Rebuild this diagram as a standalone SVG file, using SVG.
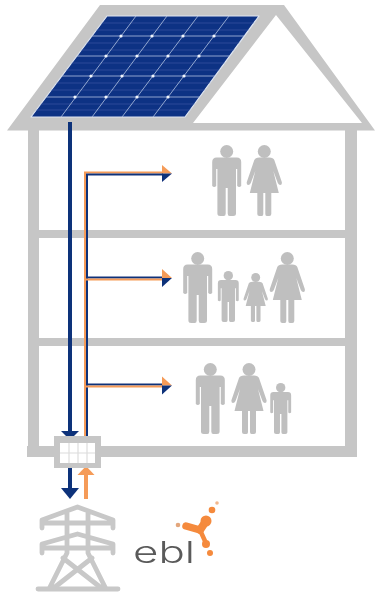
<svg xmlns="http://www.w3.org/2000/svg" width="375" height="593" viewBox="0 0 375 593">
<style>
.g{fill:#c6c6c6}
.p{fill:#bfbfbf}
.navy{stroke:#11307a;fill:none}
.org{stroke:#f59b58;fill:none}
.nf{fill:#11307a}
.of{fill:#f59b58}
.maj{stroke:#b4c5e2;stroke-width:.8}
.min{stroke:#3f62aa;stroke-width:.6}
.py{stroke:#c8c8c8;stroke-width:4.800;fill:none;stroke-linecap:round;stroke-linejoin:round}
.cell{stroke:#dcdcdc;stroke-width:1.2}
</style>
<defs>
<filter id="soft" x="-5%" y="-5%" width="110%" height="110%"><feGaussianBlur stdDeviation="0.5"/></filter>
<clipPath id="pc"><polygon points="107,16 259,16 185,117 31,117"/></clipPath>
<g id="man">
<circle cx="0" cy="6.500" r="6.500"/>
<path d="M-10 12.500H10Q14.500 12.500 14.500 17V41Q12.500 43 10.500 41V24H9.300V68.500Q9.300 71 6.500 71H3Q1 71 1 68.500V43H-1V68.500Q-1 71-3 71H-6.500Q-9.300 71-9.300 68.500V24H-10.500V41Q-12.500 43-14.500 41V17Q-14.500 12.500-10 12.500Z"/>
</g>
<g id="woman">
<circle cx="0" cy="6.500" r="6.500"/>
<path d="M-5 12.500H5Q9 12.500 10 15L17.500 37Q18 40 16 40Q14.500 40 13.500 38L9 26L14.500 48H7V69Q7 71 5 71H2.500Q1 71 1 69V48H-1V69Q-1 71-2.500 71H-5Q-7 71-7 69V48H-14.500L-9 26L-13.500 38Q-14.500 40-16 40Q-18 40-17.500 37L-10 15Q-9 12.500-5 12.500Z"/>
</g>
</defs>
<rect width="375" height="593" fill="#fff"/>
<g filter="url(#soft)">
<g id="house">
<path class="g" fill-rule="evenodd" d="M100 5H284L375 130.500H7ZM276 15L193 123H362Z"/>
<rect class="g" x="28" y="130" width="11" height="327"/>
<rect class="g" x="345" y="130" width="12" height="327"/>
<rect class="g" x="28" y="230" width="329" height="8"/>
<rect class="g" x="28" y="338" width="329" height="8"/>
<rect class="g" x="27" y="446" width="330" height="11"/>
</g>
<g id="solar-panel">
<polygon points="107,16 259,16 185,117 31,117" fill="#0d3084" stroke="#dfe6f2" stroke-width="1.2" stroke-linejoin="round"/>
<g clip-path="url(#pc)">
<path class="min" d="M0 23H300M0 30H300M0 43H300M0 50H300M0 63H300M0 70H300M0 83H300M0 90H300M0 104H300M0 110H300"/>
<path class="maj" d="M0 36H300M0 56H300M0 76H300M0 97H300"/>
<path class="maj" d="M136 16L61 117M167 16L92 117M198 16L122 117M229 16L153 117"/>
</g>
<g fill="#f2f6fc">
<circle cx="121" cy="36" r="1.600"/><circle cx="152" cy="36" r="1.600"/><circle cx="183" cy="36" r="1.600"/><circle cx="214" cy="36" r="1.600"/>
<circle cx="106" cy="56" r="1.600"/><circle cx="137" cy="56" r="1.600"/><circle cx="168" cy="56" r="1.600"/><circle cx="199" cy="56" r="1.600"/>
<circle cx="91" cy="76" r="1.600"/><circle cx="122" cy="76" r="1.600"/><circle cx="153" cy="76" r="1.600"/><circle cx="184" cy="76" r="1.600"/>
<circle cx="75" cy="97" r="1.600"/><circle cx="106" cy="97" r="1.600"/><circle cx="137" cy="97" r="1.600"/><circle cx="168" cy="97" r="1.600"/>
</g>
</g>
<g id="people" class="p">
<use href="#man" x="226.700" y="145"/>
<use href="#woman" x="264.300" y="145"/>
<use href="#man" x="197.700" y="252"/>
<use href="#man" transform="translate(228.300 271) scale(.72)"/>
<use href="#woman" transform="translate(255.700 273) scale(.69)"/>
<use href="#woman" x="287.300" y="252"/>
<use href="#man" x="210.300" y="363"/>
<use href="#woman" x="249" y="363"/>
<use href="#man" transform="translate(280.700 383) scale(.72)"/>
</g>
<g id="connectors">
<path class="navy" stroke-width="4" d="M70 122V433"/>
<path class="org" stroke-width="2" d="M85 437V172.500H163"/>
<path class="navy" stroke-width="2" d="M87 437V174.500H163"/>
<path class="navy" stroke-width="2" d="M87 277.500H163M87 384.500H163"/>
<path class="org" stroke-width="2" d="M86 279.500H163M86 386.500H163"/>
<polygon class="of" points="162,165 172,173.500 162,173.500"/><polygon class="nf" points="162,173.500 172,173.500 162,182"/>
<polygon class="of" points="162,269 172,278 162,278"/><polygon class="nf" points="162,278 172,278 162,287"/>
<polygon class="of" points="162,376.500 172,385.500 162,385.500"/><polygon class="nf" points="162,385.500 172,385.500 162,394.500"/>
<polygon class="nf" points="61,431 79,431 70,440"/>
<path class="navy" stroke-width="4" d="M70 466V490"/>
<polygon class="nf" points="61,488 79,488 70,499"/>
<path class="org" stroke-width="4" d="M86 473V499"/>
<polygon class="of" points="77.500,475 94.500,475 86,466"/>
</g>
<g id="inverter">
<rect class="g" x="54" y="436" width="47" height="32"/>
<rect x="60" y="443" width="35" height="20" fill="#fff"/>
<path class="cell" d="M60 453H95M69 443V463M78 443V463M87 443V463"/>
</g>
<g id="pylon">
<path class="py" d="M42 528V520L77.500 507L113 520V528M42 523H113M42 553V544L77.500 534L113 544V553M42 548H113M67 513V553L50 587M88 513V553L105 587M63 558L100 587M92 558L55 587"/>
<path class="py" d="M38 589H118"/>
</g>
<g id="logo">
<text x="133" y="563" font-family="Inter, 'Liberation Sans', sans-serif" font-size="30" font-weight="300" fill="#5a5a5a" textLength="62" lengthAdjust="spacingAndGlyphs">ebl</text>
<g fill="none" stroke="#f58a3c" stroke-linecap="round">
<path stroke-width="7.500" d="M186 526L200 530"/>
<path stroke-width="8" d="M200 530L206 521"/>
<path stroke-width="4.500" d="M200 530L205 541"/>
</g>
<g fill="#f58a3c">
<circle cx="206" cy="521" r="5.500"/>
<circle cx="206" cy="544" r="4"/>
<circle cx="210" cy="553" r="3"/>
<circle cx="212" cy="510" r="3.300"/>
<circle cx="217" cy="503" r="1.800" fill="#f3b78c"/>
<circle cx="178" cy="525" r="2.300" fill="#e3a67b"/>
</g>
</g>
</g>
</svg>
